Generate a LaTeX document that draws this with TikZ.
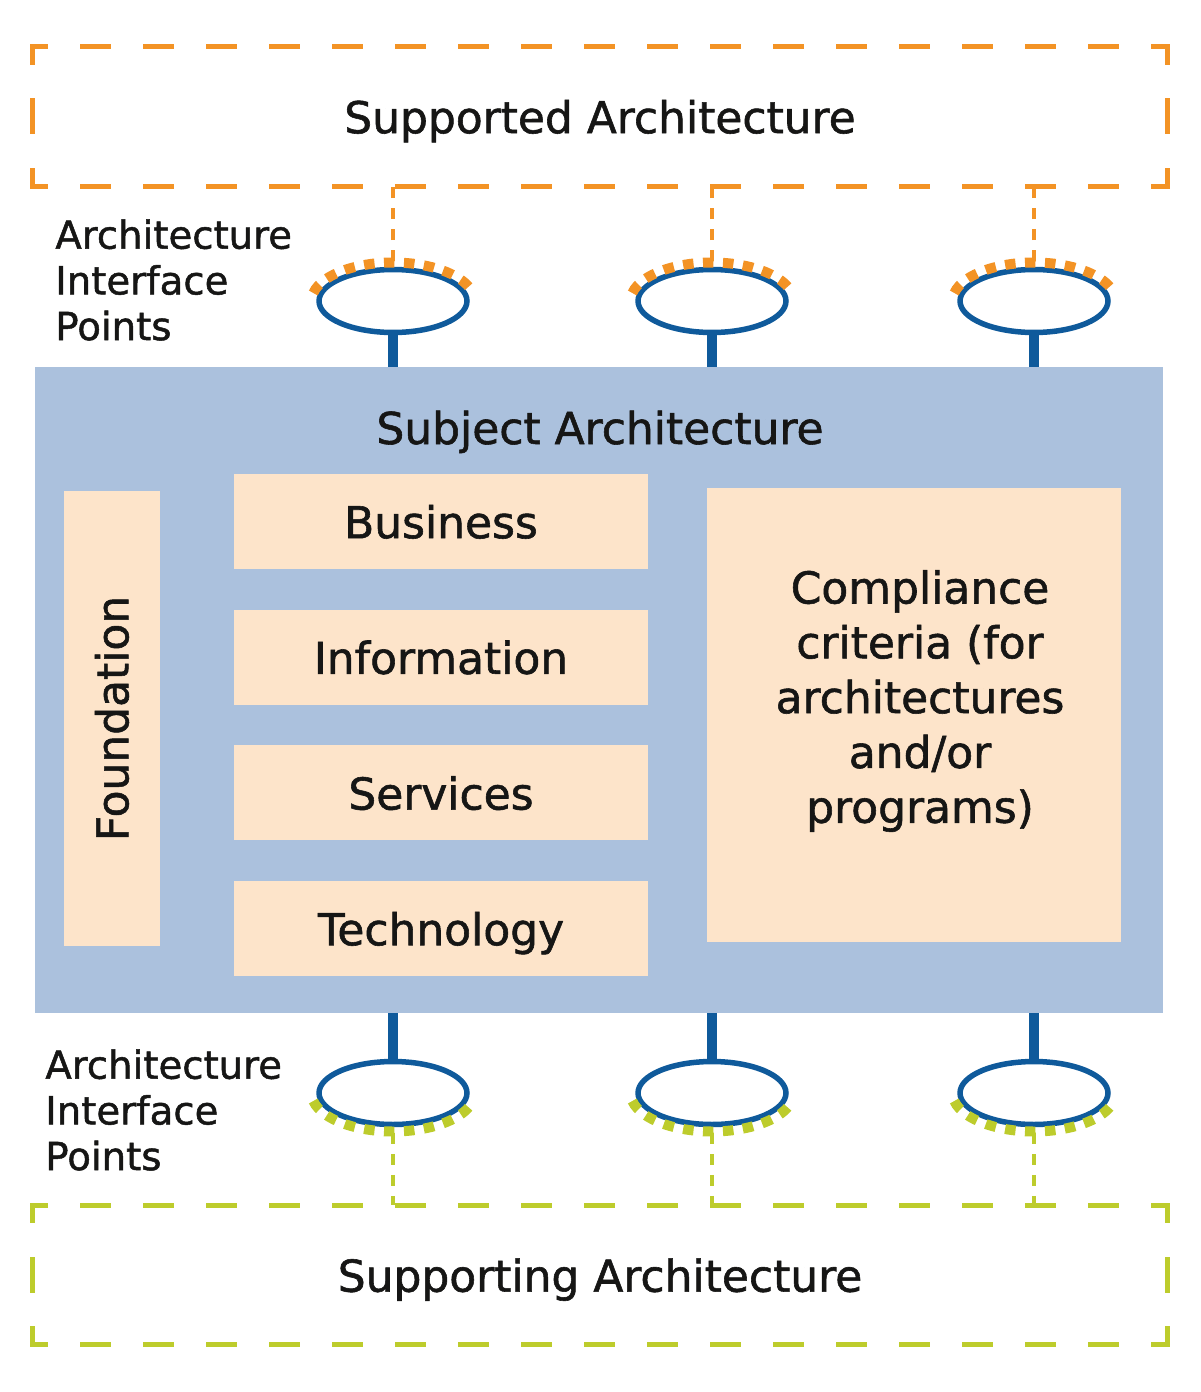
\documentclass[tikz,border=0pt]{standalone}
\usepackage{fontspec}
\setmainfont{DejaVu Sans}[FakeBold=1.3]
\usetikzlibrary{positioning,shapes.geometric}
\definecolor{supcol}{HTML}{F39325}
\definecolor{sptcol}{HTML}{BDCC2C}
\definecolor{ifblue}{HTML}{0F5A9B}
\definecolor{subjcol}{HTML}{ABC1DD}
\definecolor{layercol}{HTML}{FDE4CA}
\definecolor{ink}{HTML}{161615}

\begin{document}
\begin{tikzpicture}[x=0.02cm,y=-0.02cm,
    every node/.style={text=ink,font=\fontsize{25}{30}\selectfont},
    archframe/.style={minimum width=22.68cm,minimum height=2.78cm,inner sep=0pt,text depth=0pt},
    hdash/.style={line width=0.1cm,line cap=rect,dash pattern=on 0.52cm off 0.74cm,dash phase=0.26cm},
    vdash/.style={line width=0.1cm,line cap=rect,dash pattern=on 0.62cm off 0.77cm,dash phase=0.31cm},
    layerbox/.style={fill=layercol,minimum width=8.28cm,minimum height=1.9cm,inner sep=0pt,text depth=0pt},
    ifpoint/.style={ellipse,draw=ifblue,line width=0.11cm,minimum width=2.96cm,minimum height=1.26cm,inner sep=0pt},
    ifstem/.style={ifblue,line width=0.2cm},
    dotarc/.style={line width=0.2cm,dash pattern=on 0.21cm off 0.19cm},
    iflink/.style={line width=0.08cm,dash pattern=on 0.22cm off 0.2cm},
    aiplabel/.style={anchor=north west,inner sep=0pt,align=left,font=\fontsize{22}{26}\selectfont}]
    \useasboundingbox (0,0) rectangle (1200,1392);

    % supported / supporting architectures
    \node[archframe] (supd) at (600,116.5) {Supported Architecture};
    \node[archframe] (supg) at (600,1275) {Supporting Architecture};
    \draw[supcol,hdash]
        (supd.north west) -- (supd.north east)
        (supd.south west) -- (supd.south east)
    ;
    \draw[supcol,vdash]
        (supd.north west) -- (supd.south west)
        (supd.north east) -- (supd.south east)
    ;
    \draw[sptcol,hdash]
        (supg.north west) -- (supg.north east)
        (supg.south west) -- (supg.south east)
    ;
    \draw[sptcol,vdash]
        (supg.north west) -- (supg.south west)
        (supg.north east) -- (supg.south east)
    ;

    % subject architecture
    \node[fill=subjcol,minimum width=22.56cm,minimum height=12.92cm,inner sep=0pt] (subj) at (599,690) {};
    \node[anchor=base] (subjtitle) at (600,444) {Subject Architecture};
    \node[fill=layercol,rotate=90,minimum width=9.1cm,minimum height=1.92cm,inner sep=0pt] (found) at (112,718.5) {Foundation};
    \node[layerbox] (bus) at (441,521.5) {Business};
    \node[layerbox,below=0.8cm of bus] (info) {Information};
    \node[layerbox,below=0.8cm of info] (serv) {Services};
    \node[layerbox,below=0.8cm of serv] (tech) {Technology};
    \node[fill=layercol,minimum width=8.28cm,minimum height=9.08cm,inner sep=0pt] (comp) at (914,715) {};
    \node[align=center,inner sep=0pt,font=\fontsize{25}{31.2}\selectfont] (comptext) at (920,701)
        {Compliance\\criteria (for\\architectures\\and/or\\programs)};

    % interface points
    \node[aiplabel] (toplabel) at (55,219) {Architecture\\Interface\\Points};
    \node[aiplabel] (botlabel) at (45,1049) {Architecture\\Interface\\Points};
    \node[ifpoint] (top1) at (393,301) {};
    \node[ifpoint] (top2) at (712,301) {};
    \node[ifpoint] (top3) at (1034,301) {};
    \node[ifpoint] (bot1) at (393,1093) {};
    \node[ifpoint] (bot2) at (712,1093) {};
    \node[ifpoint] (bot3) at (1034,1093) {};
    \draw[ifstem]
        (top1.south) -- (top1.south |- subj.north)
        (top2.south) -- (top2.south |- subj.north)
        (top3.south) -- (top3.south |- subj.north)
        (bot1.north) -- (bot1.north |- subj.south)
        (bot2.north) -- (bot2.north |- subj.south)
        (bot3.north) -- (bot3.north |- subj.south)
    ;
    \draw[supcol,dotarc]
        (top1.center) ++(168:1.63cm and 0.77cm) arc[start angle=168,end angle=12,x radius=1.63cm,y radius=0.77cm]
        (top2.center) ++(168:1.63cm and 0.77cm) arc[start angle=168,end angle=12,x radius=1.63cm,y radius=0.77cm]
        (top3.center) ++(168:1.63cm and 0.77cm) arc[start angle=168,end angle=12,x radius=1.63cm,y radius=0.77cm]
    ;
    \draw[sptcol,dotarc]
        (bot1.center) ++(192:1.63cm and 0.77cm) arc[start angle=192,end angle=348,x radius=1.63cm,y radius=0.77cm]
        (bot2.center) ++(192:1.63cm and 0.77cm) arc[start angle=192,end angle=348,x radius=1.63cm,y radius=0.77cm]
        (bot3.center) ++(192:1.63cm and 0.77cm) arc[start angle=192,end angle=348,x radius=1.63cm,y radius=0.77cm]
    ;
    \draw[supcol,iflink]
        ([yshift=0.8cm]top1.center) -- (top1 |- supd.south)
        ([yshift=0.8cm]top2.center) -- (top2 |- supd.south)
        ([yshift=0.8cm]top3.center) -- (top3 |- supd.south)
    ;
    \draw[sptcol,iflink]
        ([yshift=-0.8cm]bot1.center) -- (bot1 |- supg.north)
        ([yshift=-0.8cm]bot2.center) -- (bot2 |- supg.north)
        ([yshift=-0.8cm]bot3.center) -- (bot3 |- supg.north)
    ;
\end{tikzpicture}
\end{document}
